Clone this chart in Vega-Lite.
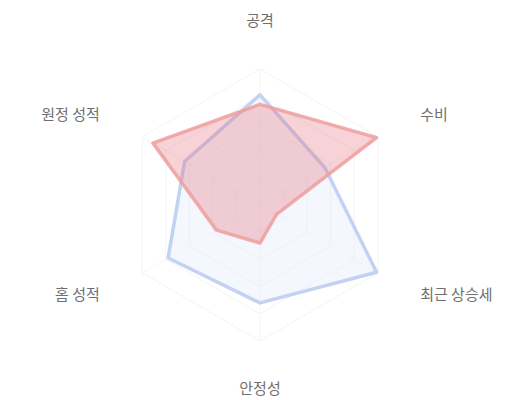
{
  "$schema": "https://vega.github.io/schema/vega-lite/v6.json",
  "width": 520,
  "height": 400,
  "autosize": {"type": "fit", "contains": "padding"},
  "padding": 0,
  "config": {"view": {"stroke": null}, "font": "Noto Sans CJK KR"},
  "datasets": {
    "axes": [
      {"axis": "공격"}, {"axis": "수비"}, {"axis": "최근 상승세"},
      {"axis": "안정성"}, {"axis": "홈 성적"}, {"axis": "원정 성적"}
    ],
    "rings": [
      {"level": 100, "axis": "공격"}, {"level": 100, "axis": "수비"}, {"level": 100, "axis": "최근 상승세"},
      {"level": 100, "axis": "안정성"}, {"level": 100, "axis": "홈 성적"}, {"level": 100, "axis": "원정 성적"},
      {"level": 80, "axis": "공격"}, {"level": 80, "axis": "수비"}, {"level": 80, "axis": "최근 상승세"},
      {"level": 80, "axis": "안정성"}, {"level": 80, "axis": "홈 성적"}, {"level": 80, "axis": "원정 성적"},
      {"level": 60, "axis": "공격"}, {"level": 60, "axis": "수비"}, {"level": 60, "axis": "최근 상승세"},
      {"level": 60, "axis": "안정성"}, {"level": 60, "axis": "홈 성적"}, {"level": 60, "axis": "원정 성적"},
      {"level": 40, "axis": "공격"}, {"level": 40, "axis": "수비"}, {"level": 40, "axis": "최근 상승세"},
      {"level": 40, "axis": "안정성"}, {"level": 40, "axis": "홈 성적"}, {"level": 40, "axis": "원정 성적"},
      {"level": 20, "axis": "공격"}, {"level": 20, "axis": "수비"}, {"level": 20, "axis": "최근 상승세"},
      {"level": 20, "axis": "안정성"}, {"level": 20, "axis": "홈 성적"}, {"level": 20, "axis": "원정 성적"}
    ],
    "scores": [
      {"team": "B", "axis": "공격", "value": 81},
      {"team": "B", "axis": "수비", "value": 55},
      {"team": "B", "axis": "최근 상승세", "value": 99},
      {"team": "B", "axis": "안정성", "value": 72},
      {"team": "B", "axis": "홈 성적", "value": 78},
      {"team": "B", "axis": "원정 성적", "value": 64},
      {"team": "A", "axis": "공격", "value": 74},
      {"team": "A", "axis": "수비", "value": 99},
      {"team": "A", "axis": "최근 상승세", "value": 14},
      {"team": "A", "axis": "안정성", "value": 28},
      {"team": "A", "axis": "홈 성적", "value": 37},
      {"team": "A", "axis": "원정 성적", "value": 91}
    ]
  },
  "layer": [
    {
      "data": {"name": "rings"},
      "transform": [
        {"calculate": "indexof(['공격','수비','최근 상승세','안정성','홈 성적','원정 성적'], datum.axis)", "as": "idx"},
        {"calculate": "PI / 2 - datum.idx * PI / 3", "as": "angle"},
        {"calculate": "datum.level * cos(datum.angle)", "as": "x"},
        {"calculate": "datum.level * sin(datum.angle)", "as": "y"}
      ],
      "mark": {"type": "line", "interpolate": "linear-closed", "stroke": "#f4f4f4", "strokeWidth": 1},
      "encoding": {
        "x": {"field": "x", "type": "quantitative", "scale": {"domain": [-191.2, 191.2], "nice": false, "zero": false}, "axis": null},
        "y": {"field": "y", "type": "quantitative", "scale": {"domain": [-143.4, 150.7], "nice": false, "zero": false}, "axis": null},
        "detail": {"field": "level"},
        "order": {"field": "idx", "type": "quantitative"}
      }
    },
    {
      "data": {"name": "axes"},
      "transform": [
        {"calculate": "indexof(['공격','수비','최근 상승세','안정성','홈 성적','원정 성적'], datum.axis)", "as": "idx"},
        {"calculate": "PI / 2 - datum.idx * PI / 3", "as": "angle"},
        {"calculate": "100 * cos(datum.angle)", "as": "x"},
        {"calculate": "100 * sin(datum.angle)", "as": "y"}
      ],
      "mark": {"type": "rule", "stroke": "#f6f6f6", "strokeWidth": 1},
      "encoding": {
        "x": {"field": "x", "type": "quantitative", "scale": {"domain": [-191.2, 191.2], "nice": false, "zero": false}, "axis": null},
        "y": {"field": "y", "type": "quantitative", "scale": {"domain": [-143.4, 150.7], "nice": false, "zero": false}, "axis": null},
        "x2": {"datum": 0},
        "y2": {"datum": 0}
      }
    },
    {
      "data": {"name": "scores"},
      "transform": [
        {"filter": "datum.team == 'B'"},
        {"calculate": "indexof(['공격','수비','최근 상승세','안정성','홈 성적','원정 성적'], datum.axis)", "as": "idx"},
        {"calculate": "PI / 2 - datum.idx * PI / 3", "as": "angle"},
        {"calculate": "datum.value * cos(datum.angle)", "as": "x"},
        {"calculate": "datum.value * sin(datum.angle)", "as": "y"}
      ],
      "mark": {
        "type": "line",
        "interpolate": "linear-closed",
        "stroke": "#c2d2f5",
        "strokeWidth": 3.5,
        "strokeJoin": "round",
        "fill": "#e3eafb",
        "fillOpacity": 0.4
      },
      "encoding": {
        "x": {"field": "x", "type": "quantitative", "scale": {"domain": [-191.2, 191.2], "nice": false, "zero": false}, "axis": null},
        "y": {"field": "y", "type": "quantitative", "scale": {"domain": [-143.4, 150.7], "nice": false, "zero": false}, "axis": null},
        "order": {"field": "idx", "type": "quantitative"}
      }
    },
    {
      "data": {"name": "scores"},
      "transform": [
        {"filter": "datum.team == 'A'"},
        {"calculate": "indexof(['공격','수비','최근 상승세','안정성','홈 성적','원정 성적'], datum.axis)", "as": "idx"},
        {"calculate": "PI / 2 - datum.idx * PI / 3", "as": "angle"},
        {"calculate": "datum.value * cos(datum.angle)", "as": "x"},
        {"calculate": "datum.value * sin(datum.angle)", "as": "y"}
      ],
      "mark": {
        "type": "line",
        "interpolate": "linear-closed",
        "stroke": "#ef9d9d",
        "strokeWidth": 3.5,
        "strokeOpacity": 0.85,
        "strokeJoin": "round",
        "fill": "#e46b78",
        "fillOpacity": 0.3
      },
      "encoding": {
        "x": {"field": "x", "type": "quantitative", "scale": {"domain": [-191.2, 191.2], "nice": false, "zero": false}, "axis": null},
        "y": {"field": "y", "type": "quantitative", "scale": {"domain": [-143.4, 150.7], "nice": false, "zero": false}, "axis": null},
        "order": {"field": "idx", "type": "quantitative"}
      }
    },
    {
      "data": {"name": "axes"},
      "transform": [
        {"calculate": "indexof(['공격','수비','최근 상승세','안정성','홈 성적','원정 성적'], datum.axis)", "as": "idx"},
        {"filter": "datum.idx == 0 || datum.idx == 3"},
        {"calculate": "PI / 2 - datum.idx * PI / 3", "as": "angle"},
        {"calculate": "135 * cos(datum.angle)", "as": "x"},
        {"calculate": "135 * sin(datum.angle)", "as": "y"}
      ],
      "mark": {"type": "text", "align": "center", "baseline": "middle", "fontSize": 15, "color": "#707070"},
      "encoding": {
        "x": {"field": "x", "type": "quantitative", "scale": {"domain": [-191.2, 191.2], "nice": false, "zero": false}, "axis": null},
        "y": {"field": "y", "type": "quantitative", "scale": {"domain": [-143.4, 150.7], "nice": false, "zero": false}, "axis": null},
        "text": {"field": "axis"}
      }
    },
    {
      "data": {"name": "axes"},
      "transform": [
        {"calculate": "indexof(['공격','수비','최근 상승세','안정성','홈 성적','원정 성적'], datum.axis)", "as": "idx"},
        {"filter": "datum.idx == 1 || datum.idx == 2"},
        {"calculate": "PI / 2 - datum.idx * PI / 3", "as": "angle"},
        {"calculate": "136 * cos(datum.angle)", "as": "x"},
        {"calculate": "133 * sin(datum.angle)", "as": "y"}
      ],
      "mark": {"type": "text", "align": "left", "baseline": "middle", "fontSize": 15, "color": "#707070"},
      "encoding": {
        "x": {"field": "x", "type": "quantitative", "scale": {"domain": [-191.2, 191.2], "nice": false, "zero": false}, "axis": null},
        "y": {"field": "y", "type": "quantitative", "scale": {"domain": [-143.4, 150.7], "nice": false, "zero": false}, "axis": null},
        "text": {"field": "axis"}
      }
    },
    {
      "data": {"name": "axes"},
      "transform": [
        {"calculate": "indexof(['공격','수비','최근 상승세','안정성','홈 성적','원정 성적'], datum.axis)", "as": "idx"},
        {"filter": "datum.idx == 4 || datum.idx == 5"},
        {"calculate": "PI / 2 - datum.idx * PI / 3", "as": "angle"},
        {"calculate": "136 * cos(datum.angle)", "as": "x"},
        {"calculate": "133 * sin(datum.angle)", "as": "y"}
      ],
      "mark": {"type": "text", "align": "right", "baseline": "middle", "fontSize": 15, "color": "#707070"},
      "encoding": {
        "x": {"field": "x", "type": "quantitative", "scale": {"domain": [-191.2, 191.2], "nice": false, "zero": false}, "axis": null},
        "y": {"field": "y", "type": "quantitative", "scale": {"domain": [-143.4, 150.7], "nice": false, "zero": false}, "axis": null},
        "text": {"field": "axis"}
      }
    }
  ]
}
